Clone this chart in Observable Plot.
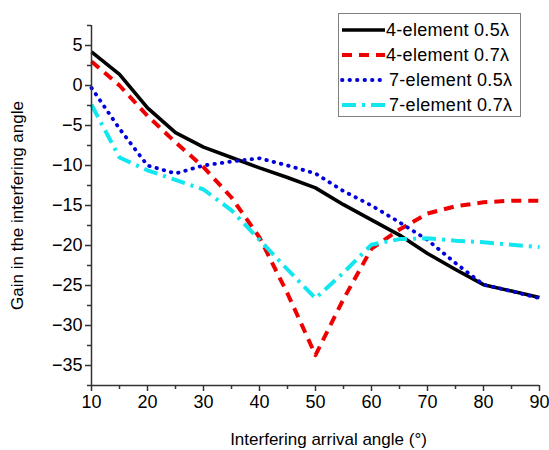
<!DOCTYPE html>
<html>
<head>
<meta charset="utf-8">
<script src="https://cdn.jsdelivr.net/npm/d3@7"></script>
<script src="https://cdn.jsdelivr.net/npm/@observablehq/plot@0.6"></script>
<style>
  body { margin: 0; background: #fff; }
  #wrap { position: relative; width: 549px; height: 450px; font-family: "Liberation Sans", Arial, sans-serif; }
  #legend { position: absolute; left: 338px; top: 13px; width: 183px; height: 104px; border: 1px solid #808080; background: #fff; box-sizing: border-box; }
  .row { position: absolute; left: 1px; height: 24px; display: flex; align-items: center; font-size: 18px; color: #000; white-space: nowrap; letter-spacing: 0.3px; }
  .row svg { display: block; }
</style>
</head>
<body>
<div id="wrap"></div>
<script>
const angles = [10, 15, 20, 25, 30, 35, 40, 45, 50, 55, 60, 65, 70, 75, 80, 85, 90];
const el4_05 = [4.2, 1.4, -2.8, -5.9, -7.7, -9.0, -10.3, -11.5, -12.8, -14.9, -16.8, -18.7, -21.0, -23.0, -24.9, -25.7, -26.5];
const el4_07 = [3.0, 0.0, -3.8, -7.1, -10.2, -14.0, -19.0, -26.0, -33.7, -26.7, -20.4, -18.0, -16.0, -15.1, -14.6, -14.4, -14.4];
const el7_05 = [-0.3, -5.4, -10.0, -11.0, -10.0, -9.5, -9.1, -10.0, -11.0, -13.2, -15.0, -17.1, -19.3, -22.2, -24.9, -25.7, -26.6];
const el7_07 = [-2.4, -9.0, -10.6, -11.8, -13.0, -15.6, -19.3, -23.0, -26.6, -23.4, -19.9, -19.2, -19.1, -19.4, -19.6, -19.9, -20.2];

const seriesNames = ["4-element 0.5λ", "4-element 0.7λ", "7-element 0.5λ", "7-element 0.7λ"];
const seriesValues = [el4_05, el4_07, el7_05, el7_07];
const seriesColors = ["#000000", "#ee0000", "#0000dd", "#12e6ee"];
const seriesDash = [null, "10,7", "0.5,7", "14,6,3,6"];
const seriesWidth = [3.6, 4, 3.8, 4];

const yTicks = [5, 0, -5, -10, -15, -20, -25, -30, -35];
const yMinor = [7.5, 2.5, -2.5, -7.5, -12.5, -17.5, -22.5, -27.5, -32.5, -37.5];
const xTicks = [10, 20, 30, 40, 50, 60, 70, 80, 90];
const xMinor = [15, 25, 35, 45, 55, 65, 75, 85];
const xTitle = "Interfering arrival angle (°)";
const yTitle = "Gain in the interfering angle";

const data = seriesNames.map((name, i) => angles.map((a, j) => ({angle: a, gain: seriesValues[i][j], series: name})));

const lineMarks = data.map((d, i) => Plot.line(d, {
  x: "angle", y: "gain",
  stroke: seriesColors[i],
  strokeWidth: seriesWidth[i],
  strokeDasharray: seriesDash[i],
  strokeLinecap: i === 2 ? "round" : "butt",
  strokeLinejoin: "round"
}));

const chart = Plot.plot({
  width: 549,
  height: 450,
  marginLeft: 91,
  marginRight: 10,
  marginTop: 25,
  marginBottom: 65,
  style: {fontFamily: "'Liberation Sans', Arial, sans-serif", background: "#fff", color: "#000", overflow: "visible"},
  x: {domain: [10, 90]},
  y: {domain: [-37.5, 7.5]},
  marks: [
    ...lineMarks,
    Plot.axisX({ticks: xMinor, tickSize: 4, tickFormat: () => "", stroke: "#333", strokeWidth: 1.5, label: null}),
    Plot.axisX({ticks: xTicks, tickSize: 6, tickPadding: 4, fontSize: 18, stroke: "#333", strokeWidth: 1.5,
      label: xTitle, labelAnchor: "center", labelArrow: "none", labelOffset: 59}),
    Plot.axisY({ticks: yMinor, tickSize: 4, tickFormat: () => "", stroke: "#333", strokeWidth: 1.5, label: null}),
    Plot.axisY({ticks: yTicks, tickSize: 6, tickPadding: 3, fontSize: 18, stroke: "#333", strokeWidth: 1.5,
      label: yTitle, labelAnchor: "center", labelArrow: "none", labelOffset: 81}),
    Plot.ruleX([10], {stroke: "#333", strokeWidth: 1.5}),
    Plot.ruleY([-37.5], {stroke: "#333", strokeWidth: 1.5})
  ]
});

const wrap = document.getElementById("wrap");
wrap.appendChild(chart);
d3.select(chart).selectAll("text").each(function() {
  const t = this.textContent;
  if (t === xTitle || t === yTitle) {
    this.setAttribute("font-size", "17");
    this.style.fontSize = "17px";
  }
  if (t === xTitle) this.setAttribute("dx", "13");
});

// Legend
const legend = document.createElement("div");
legend.id = "legend";
const rowTops = [4, 29, 54, 79];
seriesNames.forEach((name, i) => {
  const row = document.createElement("div");
  row.className = "row";
  row.style.top = rowTops[i] + "px";
  const svg = d3.create("svg").attr("width", 46).attr("height", 24);
  svg.append("line").attr("x1", 2).attr("x2", 45).attr("y1", 12).attr("y2", 12)
    .attr("stroke", seriesColors[i]).attr("stroke-width", seriesWidth[i])
    .attr("stroke-dasharray", seriesDash[i])
    .attr("stroke-linecap", i === 2 ? "round" : "butt");
  row.appendChild(svg.node());
  const span = document.createElement("span");
  span.textContent = name;
  if (i >= 2) span.style.marginLeft = "3px";
  row.appendChild(span);
  legend.appendChild(row);
});
wrap.appendChild(legend);
</script>
</body>
</html>
